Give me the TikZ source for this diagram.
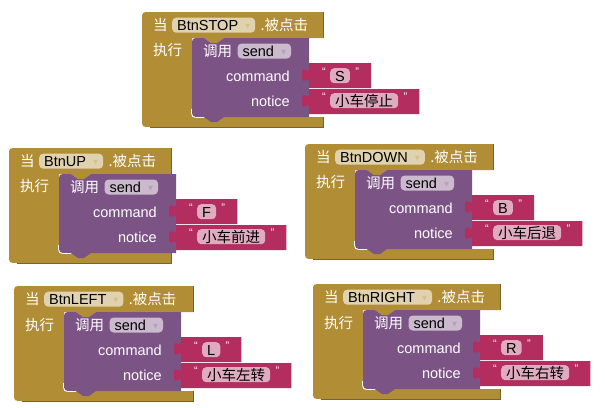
\documentclass[tikz,border=0pt]{standalone}
\usepackage{fontspec}
\setmainfont{Liberation Sans}
\newfontfamily\cjk{Noto Sans CJK SC}
\newfontfamily\symf{DejaVu Sans}
\usetikzlibrary{positioning, backgrounds}

\definecolor{ctrlgold}{RGB}{177,142,53}
\definecolor{procpurple}{RGB}{124,83,133}
\definecolor{textpink}{RGB}{179,45,94}

%% small drop-down triangle inside a field
\newcommand{\dropmark}[1]{\hspace{7pt}\raisebox{2.5pt}{\symf\fontsize{6.5}{7}\selectfont\textcolor{#1}{▼}}\hspace{3pt}}

%% one "when <button> click / do call send" block
%% #1 name, #2 #3 top left corner, #4 width of the head, #5 button, #6 command, #7 notice
\newcommand{\clickblock}[7]{%
\begin{scope}[shift={(#2,#3)}]
    \node[cjklbl] (#1-when) at (11,12.7) {当};
    \node[golddrop] (#1-btn) at (30,5.5) {#5\dropmark{ctrlgold!55!white}};
    \node[cjklbl, right=5pt of #1-btn] (#1-click) {.被点击};
    \node[cjklbl] (#1-do) at (11,38.5) {执行};
    \node[cjklbl] (#1-call) at (61,39) {调用};
    \node[purpdrop, right=5pt of #1-call] (#1-send) {send\dropmark{procpurple!55!white}};
    \node[arglbl] (#1-cmdlbl) at (148,69.5) {command};
    \node[arglbl] (#1-msglbl) at (148,94.7) {notice};
    \node[tagbox] (#1-cmd) at (188,56) {#6};
    \node[tagbox] (#1-msg) at (188,81) {\cjk #7};
    \node[qmark, left=4pt of #1-cmd, yshift=3.5pt] (#1-q1) {“};
    \node[qmark, right=5pt of #1-cmd, yshift=3.5pt] (#1-q2) {”};
    \node[qmark, left=4pt of #1-msg, yshift=3.5pt] (#1-q3) {“};
    \node[qmark, right=5pt of #1-msg, yshift=3.5pt] (#1-q4) {”};
    \coordinate[right=21pt of #1-cmd] (#1-cr);
    \coordinate[right=21pt of #1-msg] (#1-mr);
    \begin{pgfonlayer}{background}
        %% event body (C shape)
        \fill[ctrlgold] (0,8) .. controls (0,0) .. (8,0) -- (#4,0) -- (#4,26)
            -- (82,26) -- (75,31) -- (69,31) -- (62,26) -- (50,26) -- (50,105)
            -- (#4,105) -- (#4,115) -- (8,115) .. controls (0,115) .. (0,107) -- cycle;
        \draw[ctrlgold!70!black, line width=0.6pt] (#4,0.3) -- (#4,26) (#4,105.3) -- (#4,115) -- (8,115);
        %% call block
        \fill[procpurple] (50,34) .. controls (50,26) .. (58,26) -- (62,26) -- (69,31) -- (75,31)
            -- (82,26) -- (167,26) -- (167,105) -- (82,105) -- (75,110) -- (69,110) -- (62,105)
            -- (58,105) .. controls (50,105) .. (50,97) -- cycle;
        \draw[white, line width=0.7pt] (49.5,97) .. controls (49.5,105.5) .. (58,105.5) -- (62,105.5);
        %% text literals
        \fill[textpink] (167,51) -- (#1-cr |- 0,51) -- (#1-cr |- 0,76) -- (167,76) -- (167,70)
            .. controls (167,60.7) and (160,77.5) .. (160,63)
            .. controls (160,48.5) and (167,65.3) .. (167,56) -- cycle;
        \fill[textpink] (167,77) -- (#1-mr |- 0,77) -- (#1-mr |- 0,102) -- (167,102) -- (167,96)
            .. controls (167,86.7) and (160,103.5) .. (160,89)
            .. controls (160,74.5) and (167,91.3) .. (167,82) -- cycle;
    \end{pgfonlayer}
\end{scope}}

\begin{document}
\begin{tikzpicture}[
    x=1pt, y=-1pt,
    font=\fontsize{14.5}{17}\selectfont,
    %% ── Text styles ─────────────────────────────────────────────────────
    cjklbl/.style={anchor=west, inner sep=0pt, text=white,
        font=\cjk\fontsize{14.5}{17}\selectfont},
    arglbl/.style={anchor=base east, inner sep=0pt, text=white},
    qmark/.style={inner sep=0pt, text=white, font=\fontsize{11}{11}\selectfont},
    %% ── Field styles ────────────────────────────────────────────────────
    fieldbox/.style={anchor=north west, rounded corners=4pt, text=black,
        inner xsep=5pt, inner ysep=0pt, text height=13pt, text depth=2pt},
    golddrop/.style={fieldbox, fill=ctrlgold!40!white},
    purpdrop/.style={fieldbox, fill=procpurple!40!white},
    tagbox/.style={fieldbox, fill=textpink!40!white},
]
\useasboundingbox (0,0) rectangle (605,407);

%%─────────────────────────────────────────────────────────────────────────
%% BtnSTOP
%%─────────────────────────────────────────────────────────────────────────
\clickblock{stop}{142}{12}{181}{BtnSTOP}{S}{小车停止}

%%─────────────────────────────────────────────────────────────────────────
%% BtnUP
%%─────────────────────────────────────────────────────────────────────────
\clickblock{up}{9}{148}{162}{BtnUP}{F}{小车前进}

%%─────────────────────────────────────────────────────────────────────────
%% BtnDOWN
%%─────────────────────────────────────────────────────────────────────────
\clickblock{down}{305}{144}{188}{BtnDOWN}{B}{小车后退}

%%─────────────────────────────────────────────────────────────────────────
%% BtnLEFT
%%─────────────────────────────────────────────────────────────────────────
\clickblock{btnleft}{14}{286}{179}{BtnLEFT}{L}{小车左转}

%%─────────────────────────────────────────────────────────────────────────
%% BtnRIGHT
%%─────────────────────────────────────────────────────────────────────────
\clickblock{btnright}{313}{284}{187}{BtnRIGHT}{R}{小车右转}

\end{tikzpicture}
\end{document}
